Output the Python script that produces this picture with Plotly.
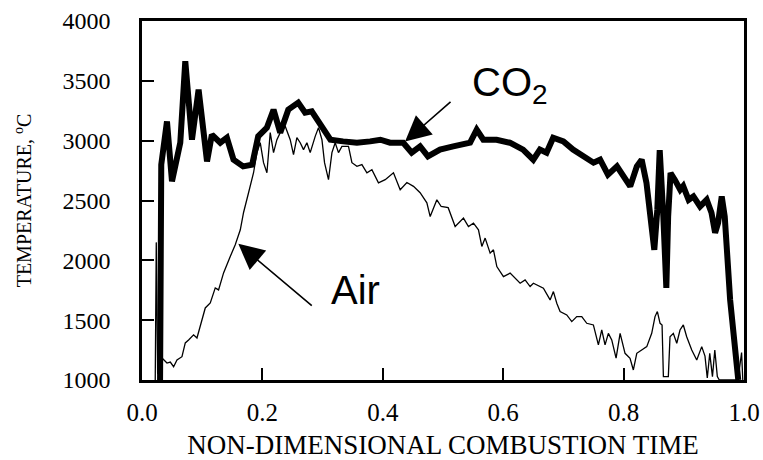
import plotly.graph_objects as go

co2_x = [0.030, 0.032, 0.0415, 0.0498, 0.0636, 0.0719, 0.083, 0.094, 0.108, 0.116, 0.130, 0.141, 0.152,
         0.168, 0.183, 0.193, 0.2075, 0.2185, 0.2296, 0.243, 0.2595, 0.271, 0.282, 0.299, 0.313, 0.334,
         0.357, 0.379, 0.396, 0.412, 0.434, 0.448, 0.462, 0.475, 0.495, 0.517, 0.545, 0.556, 0.567,
         0.589, 0.611, 0.633, 0.650, 0.661, 0.672, 0.683, 0.700, 0.716, 0.733, 0.750, 0.761, 0.774,
         0.789, 0.799, 0.811, 0.822, 0.830, 0.838, 0.844, 0.851, 0.856, 0.860, 0.866, 0.871, 0.874,
         0.878, 0.885, 0.894, 0.899, 0.908, 0.916, 0.927, 0.938, 0.946, 0.952, 0.957, 0.963, 0.968,
         0.977, 0.985, 0.9905]
co2_t = [1000, 2800, 3161, 2660, 2983, 3664, 3008, 3427, 2827, 3050, 2983, 3025, 2841,
         2785, 2799, 3036, 3109, 3259, 3067, 3259, 3318, 3234, 3245, 3109, 3008, 2994,
         2983, 2994, 3008, 2983, 2983, 2899, 2952, 2869, 2925, 2952, 2983, 3092, 3008,
         3008, 2983, 2925, 2841, 2925, 2899, 3025, 2994, 2925, 2869, 2816, 2841, 2716,
         2785, 2701, 2618, 2785, 2841, 2647, 2423, 2088, 2423, 2920, 2366, 1770, 2366,
         2730, 2674, 2590, 2620, 2506, 2534, 2450, 2506, 2397, 2230, 2314, 2534, 2366,
         1669, 1251, 1000]

air_x = [0.022, 0.0237, 0.026, 0.0332, 0.0415, 0.047, 0.0525, 0.0581, 0.0664, 0.0719, 0.0774, 0.0857,
         0.0913, 0.0996, 0.1051, 0.1134, 0.1217, 0.1272, 0.1355, 0.1466, 0.1549, 0.1633, 0.1687,
         0.177, 0.1853, 0.1909, 0.1964, 0.2019, 0.2075, 0.213, 0.2185, 0.2241, 0.2296, 0.2379,
         0.2462, 0.2517, 0.2573, 0.2628, 0.2683, 0.2739, 0.2794, 0.2877, 0.2932, 0.2989, 0.3032,
         0.3098, 0.3155, 0.3209, 0.3264, 0.3321, 0.343, 0.3487, 0.357, 0.3653, 0.3736, 0.3819,
         0.3928, 0.404, 0.4177, 0.4289, 0.44, 0.451, 0.462, 0.4732, 0.4787, 0.4898, 0.497,
         0.5086, 0.5202, 0.534, 0.5423, 0.5506, 0.5589, 0.5645, 0.57, 0.5783, 0.5838, 0.5894,
         0.6004, 0.6115, 0.6281, 0.6364, 0.6447, 0.6502, 0.6668, 0.6779, 0.6834, 0.689, 0.6945,
         0.7056, 0.7139, 0.7222, 0.7305, 0.7388, 0.7498, 0.7581, 0.7637, 0.7692, 0.7747, 0.7803,
         0.7875, 0.7942, 0.8024, 0.8107, 0.8162, 0.8219, 0.8302, 0.8385, 0.8467, 0.8522, 0.8561,
         0.8606, 0.8639, 0.8661, 0.8743, 0.8771, 0.8826, 0.8883, 0.8937, 0.8992, 0.9048, 0.9132,
         0.9215, 0.9298, 0.9352, 0.939, 0.9431, 0.9476, 0.9515, 0.9557, 0.959, 0.990, 0.996, 0.998]
air_t = [1000, 2150, 1050, 1184, 1142, 1150, 1111, 1167, 1195, 1310, 1335, 1377,
         1351, 1502, 1602, 1644, 1770, 1753, 1895, 2032, 2130, 2255, 2400,
         2565, 2732, 2900, 2983, 2816, 2732, 3067, 2900, 3008, 3067, 3120,
         3008, 2883, 3025, 2983, 2925, 2983, 2900, 3036, 3109, 3008, 2816,
         2674, 2900, 2983, 2900, 2952, 2952, 2816, 2785, 2800, 2732, 2757,
         2648, 2674, 2732, 2590, 2650, 2618, 2565, 2481, 2366, 2506, 2450,
         2440, 2283, 2353, 2283, 2311, 2255, 2116, 2186, 2060, 2088, 1948,
         1864, 1893, 1809, 1837, 1781, 1809, 1767, 1669, 1739, 1642, 1572,
         1544, 1488, 1530, 1530, 1474, 1460, 1293, 1418, 1293, 1390, 1335,
         1182, 1390, 1223, 1182, 1084, 1223, 1251, 1279, 1390, 1530, 1572,
         1474, 1460, 1028, 1028, 1362, 1390, 1307, 1418, 1460, 1362, 1251,
         1167, 1279, 1200, 1017, 1223, 1028, 1251, 1028, 1000, 1000, 1230, 1000]

x_ticks = [0.0, 0.2, 0.4, 0.6, 0.8, 1.0]
x_tick_labels = ["0.0", "0.2", "0.4", "0.6", "0.8", "1.0"]
y_ticks = [1000, 1500, 2000, 2500, 3000, 3500, 4000]
y_tick_labels = ["1000", "1500", "2000", "2500", "3000", "3500", "4000"]

serif = "Liberation Serif, Times New Roman, serif"
sans = "Liberation Sans, Arial, sans-serif"

fig = go.Figure()
fig.add_trace(go.Scatter(x=air_x, y=air_t, mode="lines", name="Air",
                         line=dict(color="black", width=1.3)))
fig.add_trace(go.Scatter(x=co2_x, y=co2_t, mode="lines", name="CO2",
                         line=dict(color="black", width=6)))

fig.add_annotation(x=0.437, y=2992, ax=0.515, ay=3335, xref="x", yref="y", axref="x", ayref="y",
                   text="", showarrow=True, arrowhead=2, arrowsize=3.2, arrowwidth=1.6, arrowcolor="black")
fig.add_annotation(x=0.160, y=2138, ax=0.2845, ay=1611, xref="x", yref="y", axref="x", ayref="y",
                   text="", showarrow=True, arrowhead=2, arrowsize=3.2, arrowwidth=1.6, arrowcolor="black")
fig.add_annotation(x=0.612, y=3469, xref="x", yref="y", text="CO<sub>2</sub>", showarrow=False,
                   font=dict(family=sans, size=40, color="black"))
fig.add_annotation(x=0.354, y=1753, xref="x", yref="y", text="Air", showarrow=False,
                   font=dict(family=sans, size=40, color="black"))

fig.update_layout(
    width=763, height=460,
    margin=dict(l=142, r=19, t=21, b=80),
    paper_bgcolor="white", plot_bgcolor="white",
    showlegend=False,
    font=dict(family=serif, color="black"),
)
fig.update_xaxes(range=[0, 1], tickvals=x_ticks, ticktext=x_tick_labels, automargin=False,
                 ticks="inside", ticklen=12, tickwidth=1.5, tickcolor="black",
                 showline=True, linewidth=2.5, linecolor="black", mirror=True,
                 showgrid=False, zeroline=False, ticklabelstandoff=8,
                 tickfont=dict(family=serif, size=25, color="black"),
                 title=dict(text="NON-DIMENSIONAL COMBUSTION TIME", standoff=12,
                            font=dict(family=serif, size=27, color="black")))
fig.update_yaxes(range=[1000, 4000], tickvals=y_ticks, ticktext=y_tick_labels, automargin=False,
                 ticks="inside", ticklen=12, tickwidth=1.5, tickcolor="black",
                 showline=True, linewidth=2.5, linecolor="black", mirror=True,
                 showgrid=False, zeroline=False, ticklabelstandoff=24,
                 tickfont=dict(family=serif, size=24, color="black"),
                 title=dict(text="TEMPERATURE, <sup>o</sup>C", standoff=26,
                            font=dict(family=serif, size=20, color="black")))

fig.write_html("out.html")
